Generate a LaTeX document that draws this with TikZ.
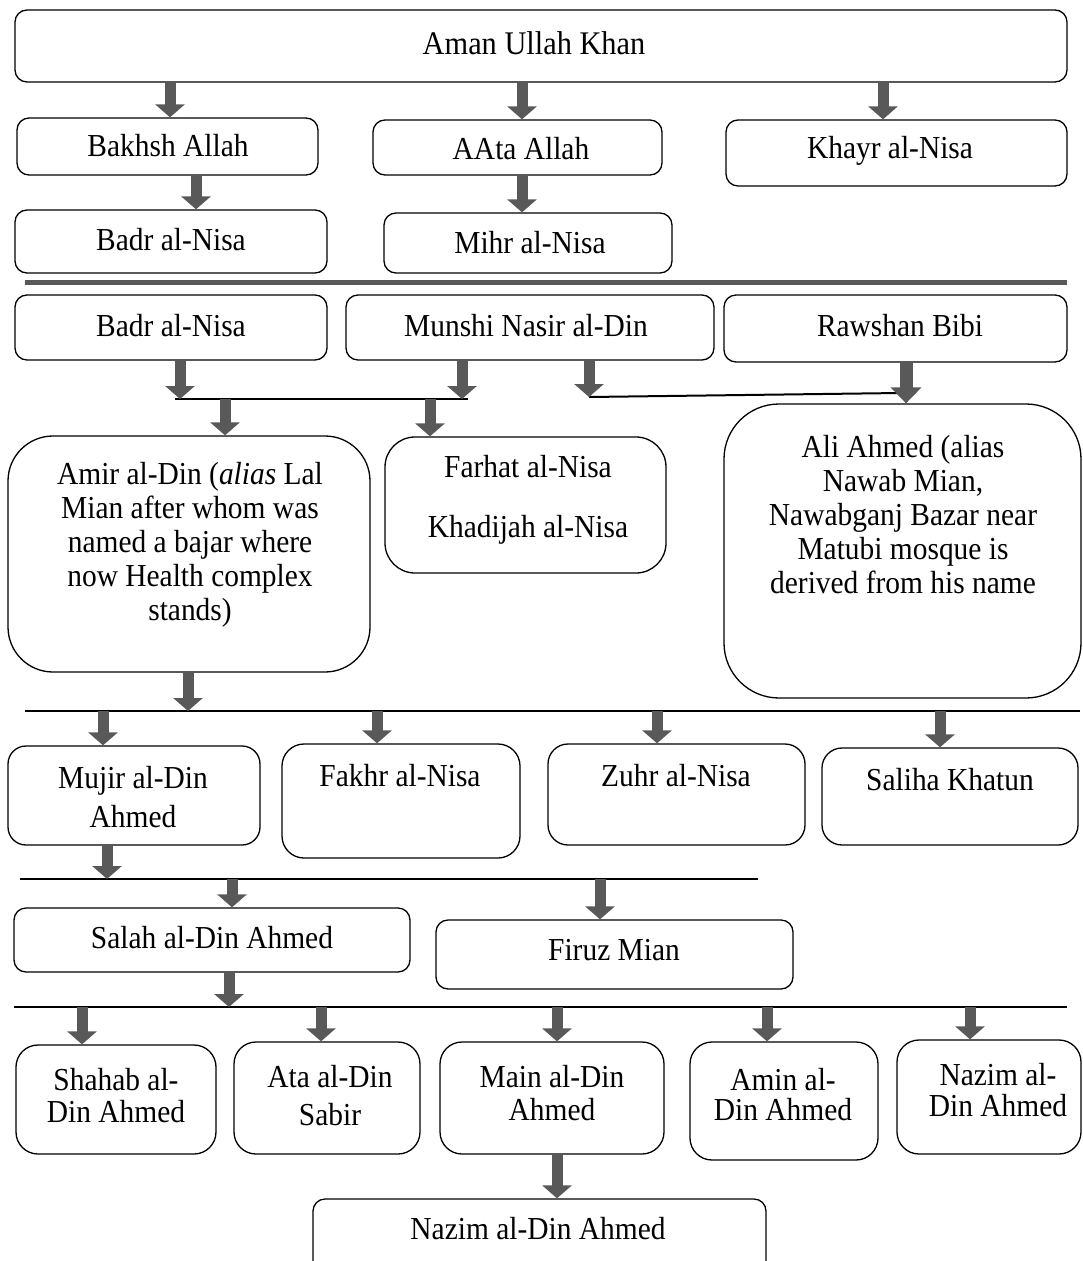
\documentclass[tikz,border=0pt]{standalone}
\usepackage{fontspec}
\setmainfont[FakeStretch=0.92]{Liberation Serif}
\usetikzlibrary{arrows.meta,fit}
\definecolor{agray}{RGB}{89,89,89}
\tikzset{
  box/.style={draw=black, line width=1.3pt, inner sep=0pt, rounded corners=#1},
  box/.default=12pt,
  txt/.style={font=\fontsize{32}{34}\selectfont, align=center, inner sep=0pt},
  arr/.style={draw=agray, line width=11pt, -{Triangle[width=29pt,length=13pt]}},
  bigarr/.style={draw=agray, line width=13pt, -{Triangle[width=30pt,length=16pt]}},
  bar/.style={draw=black, line width=2pt},
  gbar/.style={draw=agray, line width=5pt}
}
\begin{document}
\begin{tikzpicture}[x=1pt,y=-1pt]
\useasboundingbox (0,0) rectangle (1083,1261);
% boxes
\node[box, fit={(15,10) (1067,82)}] (aman) {};
\node[box, fit={(17,118) (318,175)}] (bakhsh) {};
\node[box, fit={(373,120) (662,175)}] (aata) {};
\node[box, fit={(726,120) (1067,186)}] (khayr) {};
\node[box, fit={(15,210) (327,273)}] (badr1) {};
\node[box, fit={(384,213) (672,273)}] (mihr) {};
\node[box, fit={(15,295) (327,360)}] (badr2) {};
\node[box, fit={(346,295) (714,360)}] (munshi) {};
\node[box, fit={(724,295) (1067,362)}] (rawshan) {};
\node[box=45pt, fit={(8,436) (370,672)}] (amir) {};
\node[box=30pt, fit={(385,437) (666,573)}] (farhat) {};
\node[box=55pt, fit={(724,404) (1081,698)}] (ali) {};
\node[box=18pt, fit={(8,746) (260,845)}] (mujir) {};
\node[box=22pt, fit={(282,744) (520,858)}] (fakhr) {};
\node[box=20pt, fit={(548,744) (805,845)}] (zuhr) {};
\node[box=20pt, fit={(822,748) (1078,845)}] (saliha) {};
\node[box, fit={(14,908) (410,972)}] (salah) {};
\node[box, fit={(436,920) (793,989)}] (firuz) {};
\node[box=22pt, fit={(16,1045) (216,1154)}] (shahab) {};
\node[box=22pt, fit={(234,1042) (420,1154)}] (ata) {};
\node[box=22pt, fit={(440,1042) (664,1154)}] (main) {};
\node[box=22pt, fit={(690,1042) (878,1160)}] (amin) {};
\node[box=22pt, fit={(897,1040) (1081,1154)}] (nazimA) {};
\begin{scope}
\clip (0,0) rectangle (1083,1261);
\node[box, fit={(313,1199) (766,1285)}] (nazimB) {};
\end{scope}
% texts
\node[txt, font=\fontsize{33}{36}\selectfont] (amanT) at (534,43) {Aman Ullah Khan};
\node[txt] (bakhshT) at (168,146) {Bakhsh Allah};
\node[txt] (aataT) at (521,149) {AAta Allah};
\node[txt] (khayrT) at (890,151) {Khayr al-Nisa};
\node[txt] (badr1T) at (171,240) {Badr al-Nisa};
\node[txt] (mihrT) at (530,243) {Mihr al-Nisa};
\node[txt] (badr2T) at (171,326) {Badr al-Nisa};
\node[txt] (munshiT) at (526,326) {Munshi Nasir al-Din};
\node[txt] (rawshanT) at (900,326) {Rawshan Bibi};
\node[txt] (amirT) at (190,545) {Amir al-Din (\textit{alias} Lal\\Mian after whom was\\named a bajar where\\now Health complex\\stands)};
\node[txt] (farhatT) at (528,500) {Farhat al-Nisa\\[26pt]Khadijah al-Nisa};
\node[txt] (aliT) at (903,515) {Ali Ahmed (alias\\Nawab Mian,\\Nawabganj Bazar near\\Matubi mosque is\\derived from his name};
\node[txt, font=\fontsize{32}{39}\selectfont] (mujirT) at (133,797) {Mujir al-Din\\Ahmed};
\node[txt] (fakhrT) at (400,776) {Fakhr al-Nisa};
\node[txt] (zuhrT) at (676,776) {Zuhr al-Nisa};
\node[txt] (salihaT) at (950,780) {Saliha Khatun};
\node[txt] (salahT) at (212,938) {Salah al-Din Ahmed};
\node[txt] (firuzT) at (614,950) {Firuz Mian};
\node[txt, font=\fontsize{32}{32}\selectfont] (shahabT) at (116,1096) {Shahab al-\\Din Ahmed};
\node[txt, font=\fontsize{32}{38}\selectfont] (ataT) at (330,1096) {Ata al-Din\\Sabir};
\node[txt, font=\fontsize{32}{33}\selectfont] (mainT) at (552,1093) {Main al-Din\\Ahmed};
\node[txt, font=\fontsize{32}{30}\selectfont] (aminT) at (783,1095) {Amin al-\\Din Ahmed};
\node[txt, font=\fontsize{32}{31}\selectfont] (nazimAT) at (998,1090) {Nazim al-\\Din Ahmed};
\node[txt] (nazimBT) at (538,1229) {Nazim al-Din Ahmed};
% junction coordinates
\coordinate (g1) at (25,282);
\coordinate (g2) at (1067,282);
\coordinate (j1a) at (175,399);
\coordinate (j1b) at (468,399);
\coordinate (j2a) at (589,397);
\coordinate (j2b) at (900,393);
\coordinate (j3a) at (25,711);
\coordinate (j3b) at (1080,711);
\coordinate (j4a) at (20,879);
\coordinate (j4b) at (758,879);
\coordinate (j5a) at (14,1007);
\coordinate (j5b) at (1067,1007);
% separator and bars
\draw[gbar] (g1) -- (g2);
\draw[bar] (j1a) -- (j1b);
\draw[bar] (j2a) -- (j2b);
\draw[bar] (j3a) -- (j3b);
\draw[bar] (j4a) -- (j4b);
\draw[bar] (j5a) -- (j5b);
% arrows
\draw[arr] (aman.south -| 170,0) -- (bakhsh.north -| 170,0);
\draw[arr] (aman.south -| 522,0) -- (aata.north -| 522,0);
\draw[arr] (aman.south -| 883,0) -- (khayr.north -| 883,0);
\draw[arr] (bakhsh.south -| 196,0) -- (badr1.north -| 196,0);
\draw[arr] (aata.south -| 522,0) -- (mihr.north -| 522,0);
\draw[arr] (badr2.south -| 180,0) -- (j1a -| 180,0);
\draw[arr] (munshi.south -| 462,0) -- (j1b -| 462,0);
\draw[arr] (munshi.south -| 589,0) -- (j2a);
\draw[bigarr] (rawshan.south -| 906,0) -- (ali.north -| 906,0);
\draw[arr] (j1a -| 225,0) -- (amir.north -| 225,0);
\draw[arr] (j1a -| 430,0) -- (farhat.north -| 430,0);
\draw[arr] (amir.south -| 188,0) -- (j3a -| 188,0);
\draw[arr] (j3a -| 103,0) -- (mujir.north -| 103,0);
\draw[arr] (j3a -| 377,0) -- (fakhr.north -| 377,0);
\draw[arr] (j3a -| 657,0) -- (zuhr.north -| 657,0);
\draw[arr] (j3a -| 940,0) -- (saliha.north -| 940,0);
\draw[arr] (mujir.south -| 107,0) -- (j4a -| 107,0);
\draw[arr] (j4a -| 232,0) -- (salah.north -| 232,0);
\draw[arr] (j4a -| 600,0) -- (firuz.north -| 600,0);
\draw[arr] (salah.south -| 229,0) -- (j5a -| 229,0);
\draw[arr] (j5a -| 82,0) -- (shahab.north -| 82,0);
\draw[arr] (j5a -| 321,0) -- (ata.north -| 321,0);
\draw[arr] (j5a -| 557,0) -- (main.north -| 557,0);
\draw[arr] (j5a -| 767,0) -- (amin.north -| 767,0);
\draw[arr] (j5a -| 970,0) -- (nazimA.north -| 970,0);
\draw[arr] (main.south -| 557,0) -- (nazimB.north -| 557,0);
\end{tikzpicture}
\end{document}
